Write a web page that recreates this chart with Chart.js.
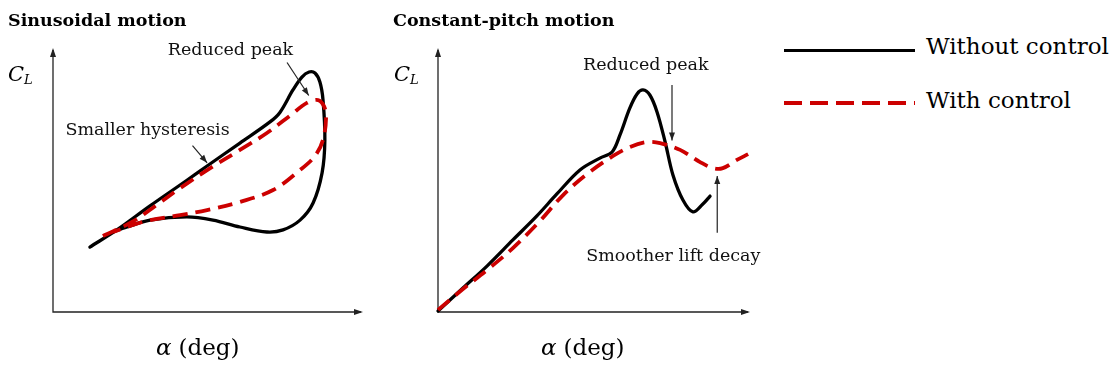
<!DOCTYPE html>
<html>
<head>
<meta charset="utf-8">
<script src="https://cdn.jsdelivr.net/npm/chart.js@4.4.0/dist/chart.umd.min.js"></script>
<style>
  body { margin: 0; background: #fff; width: 1117px; height: 376px; position: relative; overflow: hidden; font-family: "DejaVu Serif", serif; color: #000; }
  canvas { position: absolute; top: 0; }
  .txt { position: absolute; line-height: 1; white-space: nowrap; }
  .title { font-weight: bold; font-size: 17.5px; top: 12px; }
  .cl { font-style: italic; font-size: 21px; top: 64px; }
  .cl span { font-size: 13px; position: relative; top: 3px; }
  .xlab { font-size: 23px; top: 336px; }
  .xlab i { margin-right: 7px; }
  .leg { position: absolute; left: 784px; width: 131px; height: 3px; }
  .legtxt { font-size: 23px; left: 926px; }
</style>
</head>
<body>
<canvas id="sinChart" width="380" height="376" style="left:0"></canvas>
<canvas id="pitchChart" width="400" height="376" style="left:380px"></canvas>

<div class="txt title" style="left:8px">Sinusoidal motion</div>
<div class="txt title" style="left:393px">Constant-pitch motion</div>
<div class="txt cl" style="left:8px">C<span>L</span></div>
<div class="txt cl" style="left:394px">C<span>L</span></div>
<div class="txt xlab" style="left:156px"><i>α</i>(deg)</div>
<div class="txt xlab" style="left:541px"><i>α</i>(deg)</div>

<div class="leg" style="top:49px;background:#000"></div>
<div class="leg" style="top:101px;height:4px;background:repeating-linear-gradient(90deg,#cc0000 0 18px,transparent 18px 26px)"></div>
<div class="txt legtxt" style="top:35px">Without control</div>
<div class="txt legtxt" style="top:89px">With control</div>

<script>
// sinusoidal pitching: hysteresis loops (alpha, CL in schematic units 0-100)
const sinAlphaNoCtrl = [11.9, 20.6, 31.3, 43.2, 49.7, 60.3, 70.0, 73.2, 77.4, 80.3, 82.6, 84.5, 86.1, 87.1, 87.7, 86.8, 83.9, 79.7, 74.2, 69.0, 60.3, 51.6, 43.2, 31.3, 23.9, 18.4];
const sinClNoCtrl    = [24.6, 31.1, 40.2, 49.9, 55.3, 64.0, 72.0, 75.6, 84.1, 89.0, 90.9, 90.5, 87.1, 80.3, 65.2, 52.7, 41.3, 34.8, 31.1, 30.3, 32.2, 34.8, 36.0, 34.8, 32.2, 29.9];
const sinAlphaCtrl = [16.1, 25.8, 33.5, 41.0, 50.6, 60.3, 69.0, 76.5, 81.9, 85.5, 87.4, 88.1, 87.1, 84.5, 79.7, 71.0, 60.3, 49.7, 41.0, 31.3, 25.8, 19.4];
const sinClCtrl    = [28.8, 34.3, 40.6, 46.9, 54.4, 61.4, 67.8, 74.4, 79.2, 80.3, 78.0, 73.9, 65.2, 59.1, 53.8, 46.2, 41.7, 38.6, 36.7, 34.8, 33.0, 30.3];

// constant-pitch ramp
const rampAlphaNoCtrl = [0, 8.0, 15.7, 24.0, 31.7, 38.1, 45.5, 51.9, 55.8, 58.3, 61.5, 63.8, 65.7, 67.9, 70.2, 72.8, 75.3, 78.5, 81.7, 84.9, 87.2];
const rampClNoCtrl    = [0.4, 9.1, 17.4, 27.3, 36.4, 44.7, 53.8, 58.3, 60.6, 67.0, 77.3, 82.6, 84.1, 82.2, 75.8, 64.4, 51.9, 42.4, 37.9, 40.9, 43.9];
const rampAlphaCtrl = [0, 8.0, 15.7, 24.0, 32.7, 40.1, 47.8, 56.1, 61.5, 67.0, 71.2, 77.6, 84.0, 88.1, 91.3, 95.8, 99.4];
const rampClCtrl    = [0.8, 8.7, 15.9, 24.2, 34.5, 44.3, 52.3, 59.1, 62.5, 64.4, 64.0, 61.4, 56.8, 54.5, 54.5, 57.6, 59.8];

const BLACK = '#000000';
const RED = '#cc0000';

function toPoints(xs, ys) {
  return xs.map((x, i) => ({ x: x, y: ys[i] }));
}

function arrowHead(ctx, x1, y1, x2, y2, len, half) {
  const a = Math.atan2(y2 - y1, x2 - x1);
  ctx.beginPath();
  ctx.moveTo(x2, y2);
  ctx.lineTo(x2 - len * Math.cos(a) + half * Math.sin(a), y2 - len * Math.sin(a) - half * Math.cos(a));
  ctx.lineTo(x2 - len * Math.cos(a) - half * Math.sin(a), y2 - len * Math.sin(a) + half * Math.cos(a));
  ctx.closePath();
  ctx.fill();
}

// axes with arrow tips + annotation arrows and labels
const sketchPlugin = {
  id: 'sketch',
  beforeDatasetsDraw(chart) {
    const { ctx, chartArea: a } = chart;
    ctx.save();
    ctx.strokeStyle = '#222';
    ctx.fillStyle = '#222';
    ctx.lineWidth = 1.3;
    ctx.beginPath();
    ctx.moveTo(a.left, a.top + 2);
    ctx.lineTo(a.left, a.bottom);
    ctx.lineTo(a.right - 2, a.bottom);
    ctx.stroke();
    arrowHead(ctx, a.left, a.bottom, a.left, a.top, 9, 3);
    arrowHead(ctx, a.left, a.bottom, a.right, a.bottom, 9, 3);
    ctx.restore();
  },
  afterDatasetsDraw(chart, args, opts) {
    const { ctx, scales: { x, y } } = chart;
    ctx.save();
    ctx.strokeStyle = '#222';
    ctx.fillStyle = '#222';
    ctx.lineWidth = 1.2;
    (opts.notes || []).forEach(n => {
      const x1 = x.getPixelForValue(n.from[0]), y1 = y.getPixelForValue(n.from[1]);
      const x2 = x.getPixelForValue(n.to[0]), y2 = y.getPixelForValue(n.to[1]);
      ctx.beginPath();
      ctx.moveTo(x1, y1);
      ctx.lineTo(x2, y2);
      ctx.stroke();
      arrowHead(ctx, x1, y1, x2, y2, 8, 3);
    });
    ctx.fillStyle = '#111';
    ctx.font = '17.5px "DejaVu Serif"';
    ctx.textBaseline = 'alphabetic';
    (opts.notes || []).forEach(n => {
      ctx.fillText(n.text, x.getPixelForValue(n.at[0]), y.getPixelForValue(n.at[1]));
    });
    ctx.restore();
  }
};

function makeChart(id, pad, noCtrl, ctrl, notes) {
  return new Chart(document.getElementById(id), {
    type: 'scatter',
    data: {
      datasets: [
        {
          label: 'With control',
          data: ctrl,
          showLine: true,
          borderColor: RED,
          borderWidth: 3.8,
          borderDash: [15, 8],
          tension: 0.35,
          pointRadius: 0,
          clip: false
        },
        {
          label: 'Without control',
          data: noCtrl,
          showLine: true,
          borderColor: BLACK,
          borderWidth: 3.3,
          borderCapStyle: 'round',
          borderJoinStyle: 'round',
          tension: 0.35,
          pointRadius: 0,
          clip: false
        }
      ]
    },
    options: {
      responsive: false,
      animation: false,
      layout: { padding: pad },
      scales: {
        x: { display: false, min: 0, max: 100 },
        y: { display: false, min: 0, max: 100 }
      },
      plugins: {
        legend: { display: false },
        tooltip: { enabled: false },
        sketch: { notes: notes }
      }
    },
    plugins: [sketchPlugin]
  });
}

makeChart('sinChart', { left: 53, top: 48, right: 17, bottom: 64 },
  toPoints(sinAlphaNoCtrl, sinClNoCtrl), toPoints(sinAlphaCtrl, sinClCtrl),
  [
    { text: 'Reduced peak', at: [37, 97.5], from: [75.5, 94.5], to: [82.5, 82] },
    { text: 'Smaller hysteresis', at: [4, 67], from: [45, 63], to: [49.7, 56.5] }
  ]);

makeChart('pitchChart', { left: 58, top: 48, right: 30, bottom: 64 },
  toPoints(rampAlphaNoCtrl, rampClNoCtrl), toPoints(rampAlphaCtrl, rampClCtrl),
  [
    { text: 'Reduced peak', at: [46.5, 91.5], from: [75, 86], to: [75, 65] },
    { text: 'Smoother lift decay', at: [47.5, 19.5], from: [89.5, 30], to: [89.5, 51.5] }
  ]);
</script>
</body>
</html>
